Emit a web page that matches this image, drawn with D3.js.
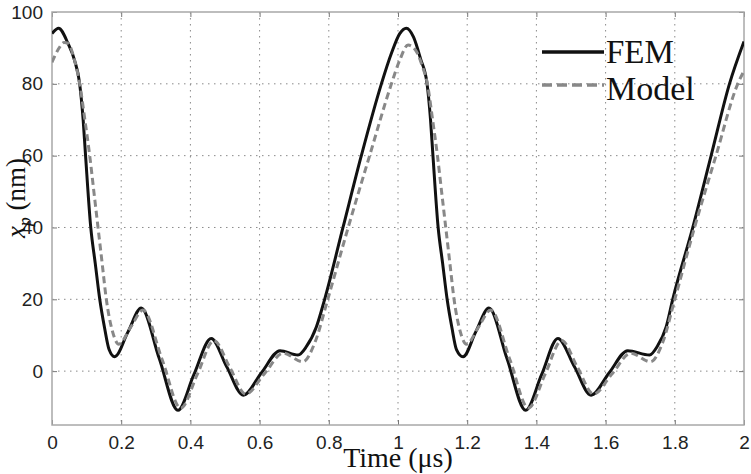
<!DOCTYPE html>
<html>
<head>
<meta charset="utf-8">
<script src="https://cdn.jsdelivr.net/npm/d3@7"></script>
<style>
  html, body { margin: 0; padding: 0; background: #fff; }
  svg { display: block; }
</style>
</head>
<body>
<svg id="chart" width="751" height="474"></svg>
<script>
// ---- data ----
const xTicks = [0, 0.2, 0.4, 0.6, 0.8, 1, 1.2, 1.4, 1.6, 1.8, 2];
const xTickLabels = ["0", "0.2", "0.4", "0.6", "0.8", "1", "1.2", "1.4", "1.6", "1.8", "2"];
const yTicks = [0, 20, 40, 60, 80, 100];
const yTickLabels = ["0", "20", "40", "60", "80", "100"];

const femTime = [0, 0.019, 0.046, 0.065, 0.08, 0.09, 0.097, 0.112, 0.125, 0.138, 0.152, 0.165, 0.181,
  0.22, 0.258, 0.31, 0.364, 0.41, 0.46, 0.505, 0.553, 0.605, 0.659, 0.711, 0.735, 0.764, 0.788,
  0.841, 0.894, 0.952, 0.981, 1.005, 1.024, 1.045, 1.065, 1.084, 1.094, 1.101, 1.116, 1.129, 1.142,
  1.156, 1.169, 1.188, 1.225, 1.263, 1.315, 1.369, 1.415, 1.462, 1.51, 1.558, 1.61, 1.664, 1.727,
  1.75, 1.775, 1.794, 1.852, 1.905, 1.958, 2.0];
const femValue = [94, 95.5, 91.3, 86.6, 80, 70, 60, 40, 30, 20, 12, 6, 4,
  11, 17.6, 3.5, -10.9, -1, 9.1, 1.2, -6.7, -0.5, 5.7, 4.5, 6.8, 12.3, 20,
  40, 60, 80, 88.5, 94, 95.5, 93, 87, 80, 70, 60, 40, 30, 20,
  12, 6, 4, 11, 17.6, 3.5, -10.9, -1, 9.1, 1.2, -6.7, -0.5, 5.7, 4.5,
  7, 12.3, 20, 40, 60, 80, 91.8];

const modelTime = [0, 0.017, 0.035, 0.046, 0.065, 0.08, 0.095, 0.109, 0.121, 0.133, 0.145, 0.157,
  0.175, 0.193, 0.228, 0.263, 0.318, 0.372, 0.42, 0.468, 0.514, 0.56, 0.614, 0.668, 0.725, 0.76,
  0.797, 0.856, 0.918, 0.981, 1.005, 1.029, 1.05, 1.07, 1.085, 1.1, 1.114, 1.126, 1.138, 1.15,
  1.162, 1.18, 1.198, 1.233, 1.268, 1.323, 1.377, 1.425, 1.473, 1.519, 1.565, 1.619, 1.673, 1.73,
  1.765, 1.8, 1.857, 1.919, 1.982, 2.0];
const modelValue = [86, 89.4, 91.5, 91.3, 86.6, 80, 70, 60, 50, 40, 30, 20,
  11, 7.5, 12.3, 17, 3.3, -10.3, -0.9, 8.5, 1, -6.4, -0.7, 5, 2.6, 8,
  20, 40, 60, 80, 86.6, 90.8, 89.5, 85, 80, 70, 60, 50, 40, 30,
  20, 11, 7.5, 12.3, 17, 3.3, -10.3, -0.9, 8.5, 1, -6.4, -0.7, 5, 2.6,
  8, 20, 40, 60, 80, 83.6];

const seriesNames = ["FEM", "Model"];

// ---- layout ----
const svg = d3.select("#chart");
const L = 52, R = 744, T = 12, B = 425;
const x = d3.scaleLinear().domain([0, 2]).range([L, R]);
const y = d3.scaleLinear().domain([-15, 100]).range([B, T]);

const sans = "'Liberation Sans', Arial, Helvetica, sans-serif";
const serif = "'Liberation Serif', 'Times New Roman', Times, serif";

// grid
const grid = svg.append("g");
grid.selectAll("line.vx").data(xTicks.slice(1, -1)).join("line")
  .attr("x1", d => x(d)).attr("x2", d => x(d)).attr("y1", T).attr("y2", B)
  .attr("stroke", "#8a8a8a").attr("stroke-width", 1).attr("stroke-dasharray", "1.5,4.5");
grid.selectAll("line.hy").data(yTicks.slice(0, -1)).join("line")
  .attr("y1", d => y(d)).attr("y2", d => y(d)).attr("x1", L).attr("x2", R)
  .attr("stroke", "#8a8a8a").attr("stroke-width", 1).attr("stroke-dasharray", "1.5,4.5");

// axes (ticks inward, on all sides)
const axB = d3.axisBottom(x).tickValues(xTicks).tickSizeInner(-5).tickSizeOuter(0)
  .tickPadding(11).tickFormat((d, i) => xTickLabels[i]);
const axT = d3.axisTop(x).tickValues(xTicks).tickSizeInner(-5).tickSizeOuter(0).tickFormat("");
const axL = d3.axisLeft(y).tickValues(yTicks).tickSizeInner(-5).tickSizeOuter(0)
  .tickPadding(9).tickFormat((d, i) => yTickLabels[i]);
const axR = d3.axisRight(y).tickValues(yTicks).tickSizeInner(-5).tickSizeOuter(0).tickFormat("");

function styleAxis(g) {
  g.select(".domain").remove();
  g.selectAll(".tick line").attr("stroke", "#777").attr("stroke-width", 1);
  g.selectAll(".tick text").attr("fill", "#222").style("font-family", sans).style("font-size", "19px");
}
svg.append("g").attr("transform", `translate(0,${B})`).call(axB).call(styleAxis);
svg.append("g").attr("transform", `translate(0,${T})`).call(axT).call(styleAxis);
svg.append("g").attr("transform", `translate(${L},0)`).call(axL).call(styleAxis);
svg.append("g").attr("transform", `translate(${R},0)`).call(axR).call(styleAxis);

// frame
svg.append("rect").attr("x", L).attr("y", T).attr("width", R - L).attr("height", B - T)
  .attr("fill", "none").attr("stroke", "#a8a8a8").attr("stroke-width", 1.5);

// clip
svg.append("clipPath").attr("id", "clip").append("rect")
  .attr("x", L).attr("y", T).attr("width", R - L).attr("height", B - T);

const line = d3.line().x(d => x(d[0])).y(d => y(d[1])).curve(d3.curveMonotoneX);
const fem = femTime.map((t, i) => [t, femValue[i]]);
const model = modelTime.map((t, i) => [t, modelValue[i]]);

const plot = svg.append("g").attr("clip-path", "url(#clip)");
plot.append("path").datum(fem).attr("d", line)
  .attr("fill", "none").attr("stroke", "#111").attr("stroke-width", 3).attr("stroke-linejoin", "round");
plot.append("path").datum(model).attr("d", line)
  .attr("fill", "none").attr("stroke", "#888").attr("stroke-width", 3).attr("stroke-dasharray", "7,4");

// legend
const leg = svg.append("g");
leg.append("line").attr("x1", 542).attr("x2", 604).attr("y1", 52).attr("y2", 52)
  .attr("stroke", "#111").attr("stroke-width", 3.5);
leg.append("text").attr("x", 606).attr("y", 63).text(seriesNames[0])
  .style("font-family", serif).style("font-size", "33px").attr("fill", "#111");
leg.append("line").attr("x1", 542).attr("x2", 604).attr("y1", 85).attr("y2", 85)
  .attr("stroke", "#888").attr("stroke-width", 3.5).attr("stroke-dasharray", "10,5");
leg.append("text").attr("x", 606).attr("y", 100).text(seriesNames[1])
  .style("font-family", serif).style("font-size", "34px").attr("fill", "#111");

// axis titles
svg.append("text").attr("x", 398).attr("y", 467).attr("text-anchor", "middle")
  .style("font-family", serif).style("font-size", "28px").attr("fill", "#111")
  .text("Time (μs)");

const yl = svg.append("text").attr("transform", "translate(25,198) rotate(-90)")
  .attr("text-anchor", "middle").style("font-family", serif).style("font-size", "27px").attr("fill", "#111");
yl.append("tspan").style("font-style", "italic").text("x");
yl.append("tspan").style("font-style", "italic").style("font-size", "18px").attr("dy", 6).text("p");
yl.append("tspan").attr("dy", -6).text(" (nm)");
</script>
</body>
</html>
